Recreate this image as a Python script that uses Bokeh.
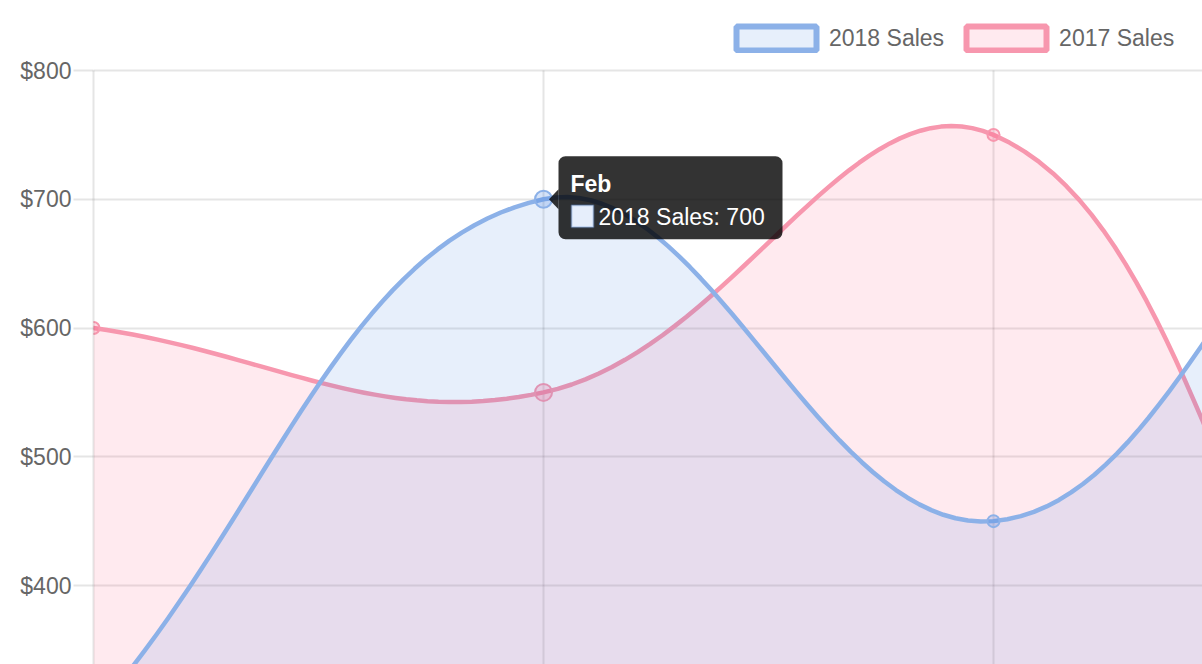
import math
from bokeh.plotting import figure
from bokeh.models import (Range1d, FixedTicker, PrintfTickFormatter, Legend, LegendItem,
                          BoxAnnotation, PolyAnnotation, Label, Grid)
from bokeh.embed import file_html
from bokeh.resources import INLINE

# ---------------- data ----------------
MONTHS = ["Jan", "Feb", "Mar", "Apr", "May"]
SALES_2018 = [300, 700, 450, 760, 500]
SALES_2017 = [600, 550, 750, 250, 500]
SERIES_NAMES = ["2018 Sales", "2017 Sales"]
Y_TICKS = [400, 500, 600, 700, 800]
HOVER_INDEX = 1

# ---------------- styling / layout ----------------
LEFT_PX, TOP_PX = 93, 70
FRAME_W, FRAME_H = 1109, 664
PX_PER_MONTH = 450.0
PX_PER_DOLLAR = 1.2875
Y_MAX = 800
X_END = FRAME_W / PX_PER_MONTH
Y_TOP = Y_MAX + TOP_PX / PX_PER_DOLLAR
Y_START = Y_MAX - (FRAME_H - TOP_PX) / PX_PER_DOLLAR
FONT = "Liberation Sans"

BLUE_LINE, BLUE_FILL, BLUE_FILL_A = "#8cb1e8", "#3b7be0", 0.12
PINK_LINE, PINK_FILL, PINK_FILL_A = "#f797ae", "#ff5c85", 0.13
GRID_COLOR, GRID_ALPHA = "#000000", 0.1
TENSION = 0.4


def spline_curve(values, samples=40):
    """Chart.js-style bezier smoothing computed in pixel space."""
    n = len(values)
    px = [i * PX_PER_MONTH for i in range(n)]
    py = [-v * PX_PER_DOLLAR for v in values]
    prev_c, next_c = [], []
    for i in range(n):
        i0 = max(i - 1, 0)
        i2 = min(i + 1, n - 1)
        d01 = math.hypot(px[i] - px[i0], py[i] - py[i0])
        d12 = math.hypot(px[i2] - px[i], py[i2] - py[i])
        tot = d01 + d12
        s01 = d01 / tot if tot else 0
        s12 = d12 / tot if tot else 0
        fa, fb = TENSION * s01, TENSION * s12
        dx, dy = px[i2] - px[i0], py[i2] - py[i0]
        prev_c.append((px[i] - fa * dx, py[i] - fa * dy))
        next_c.append((px[i] + fb * dx, py[i] + fb * dy))

    def to_data(pt):
        x, y = pt
        return x / PX_PER_MONTH, min(-y / PX_PER_DOLLAR, Y_MAX)

    xs, ys = [], []
    for i in range(n - 1):
        p0 = (i, values[i])
        c1 = to_data(next_c[i])
        c2 = to_data(prev_c[i + 1])
        p3 = (i + 1, values[i + 1])
        for k in range(samples + (1 if i == n - 2 else 0)):
            t = k / samples
            a, b, c, d = (1 - t) ** 3, 3 * (1 - t) ** 2 * t, 3 * (1 - t) * t ** 2, t ** 3
            xs.append(a * p0[0] + b * c1[0] + c * c2[0] + d * p3[0])
            ys.append(a * p0[1] + b * c1[1] + c * c2[1] + d * p3[1])
    return xs, ys


p = figure(width=LEFT_PX + FRAME_W, height=FRAME_H,
           x_range=Range1d(0, X_END), y_range=Range1d(Y_START, Y_TOP),
           x_axis_location=None,
           output_backend="svg", toolbar_location=None,
           min_border_left=LEFT_PX, min_border_right=0, min_border_top=0, min_border_bottom=0)
p.outline_line_color = None
p.background_fill_color = "white"
p.border_fill_color = "white"

# grid
p.ygrid.ticker = FixedTicker(ticks=Y_TICKS)
p.ygrid.grid_line_color = GRID_COLOR
p.ygrid.grid_line_alpha = GRID_ALPHA
p.ygrid.grid_line_width = 2
x_ticker = FixedTicker(ticks=list(range(len(MONTHS))))
if len(p.xgrid) == 0:
    p.add_layout(Grid(dimension=0, ticker=x_ticker))
need_mask = False
for g in p.xgrid:
    g.ticker = x_ticker
    g.grid_line_color = GRID_COLOR
    g.grid_line_alpha = GRID_ALPHA
    g.grid_line_width = 2
    try:
        g.cross_bounds = (Y_START - 50, Y_MAX)
    except Exception:
        need_mask = True

# y axis
ya = p.yaxis[0]
ya.ticker = FixedTicker(ticks=Y_TICKS)
ya.formatter = PrintfTickFormatter(format="$%d")
ya.bounds = (Y_START - 50, Y_MAX)
ya.major_label_text_font = FONT
ya.major_label_text_font_size = "23px"
ya.major_label_text_color = "#666666"
ya.axis_line_color = GRID_COLOR
ya.axis_line_alpha = GRID_ALPHA
ya.axis_line_width = 2
ya.major_tick_line_color = GRID_COLOR
ya.major_tick_line_alpha = GRID_ALPHA
ya.major_tick_line_width = 2
ya.major_tick_in = 0
ya.major_tick_out = 20
ya.minor_tick_line_color = None
ya.major_label_standoff = 2

series = [
    (SERIES_NAMES[1], SALES_2017, PINK_LINE, PINK_FILL, PINK_FILL_A),
    (SERIES_NAMES[0], SALES_2018, BLUE_LINE, BLUE_FILL, BLUE_FILL_A),
]
legend_renderers = {}
for name, vals, lc, fc, fa in series:
    xs, ys = spline_curve(vals)
    p.patch(xs + [xs[-1], xs[0]], ys + [0, 0], fill_color=fc, fill_alpha=fa, line_alpha=0)
    p.line(xs, ys, line_color=lc, line_width=4.5, line_join="round", line_cap="round")
    idx = [i for i in range(len(vals)) if i != HOVER_INDEX]
    p.scatter(idx, [vals[i] for i in idx], size=12, marker="circle",
              fill_color=fc, fill_alpha=fa + 0.1, line_color=lc, line_width=2)
    p.scatter([HOVER_INDEX], [vals[HOVER_INDEX]], size=17, marker="circle",
              fill_color=fc, fill_alpha=fa + 0.1, line_color=lc, line_width=2)
    legend_renderers[name] = p.rect(x=[-10], y=[Y_START - 100], width=1, height=1,
                                    fill_color=fc, fill_alpha=fa, line_color=lc, line_width=6)

if need_mask:
    p.add_layout(BoxAnnotation(bottom=Y_MAX + 0.8, fill_color="white", fill_alpha=1, line_alpha=0))

legend = Legend(items=[LegendItem(label=n, renderers=[legend_renderers[n]]) for n in SERIES_NAMES],
                orientation="horizontal", location=(633, FRAME_H - 53),
                glyph_width=100, glyph_height=30, label_standoff=3, spacing=12,
                padding=0, margin=0, border_line_alpha=0, background_fill_alpha=0,
                label_text_font=FONT, label_text_font_size="23px", label_text_color="#666666")
p.add_layout(legend)

# ---------------- tooltip (static) ----------------
HX, HY = HOVER_INDEX, SALES_2018[HOVER_INDEX]


def ox(dpx):
    return HX + dpx / PX_PER_MONTH


def oy(dpx):
    return HY - dpx / PX_PER_DOLLAR


p.add_layout(BoxAnnotation(left=ox(15), right=ox(239), top=oy(-43), bottom=oy(40),
                           fill_color="black", fill_alpha=0.8, line_alpha=0, border_radius=7))
p.add_layout(PolyAnnotation(xs=[ox(5.5), ox(15), ox(15)], ys=[oy(0), oy(-10), oy(10)],
                            fill_color="black", fill_alpha=0.8, line_alpha=0))
p.add_layout(BoxAnnotation(left=ox(28), right=ox(50), top=oy(6), bottom=oy(28),
                           fill_color="#e6eefb", fill_alpha=1, line_color="#5a8ad8", line_width=2))
p.add_layout(Label(x=ox(27), y=oy(-15), text=MONTHS[HOVER_INDEX], text_color="white",
                   text_font=FONT, text_font_size="23px", text_font_style="bold",
                   text_baseline="alphabetic", text_align="left"))
p.add_layout(Label(x=ox(55), y=oy(18), text=f"{SERIES_NAMES[0]}: {SALES_2018[HOVER_INDEX]}",
                   text_color="white", text_font=FONT, text_font_size="23px",
                   text_baseline="alphabetic", text_align="left"))

open("out.html", "w").write(file_html(p, INLINE))
